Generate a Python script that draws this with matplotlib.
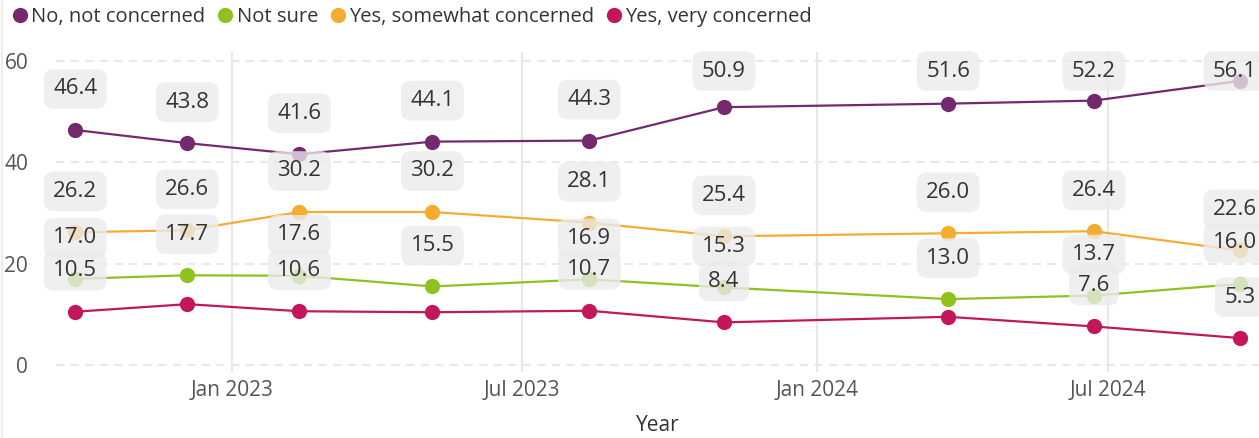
import datetime as dt
import matplotlib
matplotlib.use("Agg")
import matplotlib.pyplot as plt
import matplotlib.dates as mdates
from matplotlib import font_manager
from matplotlib.lines import Line2D

# ── Data ──────────────────────────────────────────────────────────────────────
dates = [dt.date(2022, 9, 25), dt.date(2022, 12, 4), dt.date(2023, 2, 12),
         dt.date(2023, 5, 6), dt.date(2023, 8, 12), dt.date(2023, 11, 4),
         dt.date(2024, 3, 23), dt.date(2024, 6, 22), dt.date(2024, 9, 21)]
not_concerned = [46.4, 43.8, 41.6, 44.1, 44.3, 50.9, 51.6, 52.2, 56.1]
not_sure      = [17.0, 17.7, 17.6, 15.5, 16.9, 15.3, 13.0, 13.7, 16.0]
somewhat      = [26.2, 26.6, 30.2, 30.2, 28.1, 25.4, 26.0, 26.4, 22.6]
very          = [10.5, 12.0, 10.6, 10.4, 10.7, 8.4, 9.5, 7.6, 5.3]
series_names  = ["No, not concerned", "Not sure", "Yes, somewhat concerned", "Yes, very concerned"]
tick_dates    = [dt.date(2023, 1, 1), dt.date(2023, 7, 1), dt.date(2024, 1, 1), dt.date(2024, 7, 1)]
y_ticks       = [0, 20, 40, 60]

PURPLE = "#74296F"
GREEN  = "#8FC11F"
ORANGE = "#F5AC30"
RED    = "#C2185B"
GRID   = "#E8E8E8"
TEXT   = "#333333"
TICK   = "#555555"

DPI = 100
W, H = 1259, 438
FONT = "Open Sans"
names = {f.name for f in font_manager.fontManager.ttflist}
LEGEND_FONT = "Liberation Sans Narrow" if "Liberation Sans Narrow" in names else FONT

plt.rcParams.update({
    "font.family": FONT,
    "figure.facecolor": "white",
    "axes.facecolor": "white",
})

fig = plt.figure(figsize=(W / DPI, H / DPI), dpi=DPI)
ax = fig.add_axes([56 / W, 66 / H, 1 - 56 / W, 320 / H])

# light container border on the left
fig.add_artist(Line2D([2 / W, 2 / W], [0, 1], transform=fig.transFigure,
                      color="#EDEDED", lw=1.5))

ax.set_xlim(dt.date(2022, 9, 13), dt.date(2024, 10, 3))
ax.set_ylim(-1.4, 61.8)

# grid
for y in y_ticks:
    ax.axhline(y, color=GRID, lw=1.5, dashes=(4, 3), zorder=0)
for d in tick_dates:
    ax.axvline(d, color=GRID, lw=1.5, zorder=0)

for s in ax.spines.values():
    s.set_visible(False)
ax.set_yticks(y_ticks)
ax.set_yticklabels([str(v) for v in y_ticks])
ax.set_xticks(tick_dates)
ax.xaxis.set_major_formatter(mdates.DateFormatter("%b %Y"))
ax.tick_params(axis="both", length=0, labelsize=15, colors=TICK)
ax.tick_params(axis="y", pad=20)
ax.tick_params(axis="x", pad=6)
ax.set_xlabel("Year", fontsize=15, color=TEXT, labelpad=10)

series = [(not_concerned, PURPLE), (not_sure, GREEN), (somewhat, ORANGE), (very, RED)]
for (vals, col), name in zip(series, series_names):
    ax.plot(dates, vals, color=col, lw=1.6, marker="o", markersize=11,
            markeredgewidth=0, label=name, zorder=3)

# data labels (Power BI style): above each point, hidden when crowded
LABEL_OFFSET = 41   # px above point
HALF_BOX = 19       # px
MIN_GAP = 30        # px
RIGHT_LIMIT = W - 2 # px, label box must end before this
ax_top = ax.get_window_extent().y1
label_order = [(not_concerned, PURPLE), (somewhat, ORANGE), (not_sure, GREEN), (very, RED)]
labels = []
for i, d in enumerate(dates):
    placed = []
    for vals, col in label_order:
        _, y_px = ax.transData.transform((mdates.date2num(d), vals[i]))
        cy = min(y_px + LABEL_OFFSET, ax_top - HALF_BOX)
        if any(abs(cy - p) < MIN_GAP for p in placed):
            continue
        placed.append(cy)
        ann = ax.annotate(f"{vals[i]:.1f}", xy=(d, vals[i]),
                          xytext=(0, (cy - y_px) * 72 / DPI), textcoords="offset points",
                          ha="center", va="center", fontsize=16, color=TEXT, zorder=5,
                          annotation_clip=False,
                          bbox=dict(boxstyle="round,pad=0.42,rounding_size=0.45",
                                    fc="#EBEBEB", ec="none", alpha=0.78))
        labels.append(ann)

# keep labels at the right edge inside the visual
fig.canvas.draw()
renderer = fig.canvas.get_renderer()
for ann in labels:
    ext = ann.get_window_extent(renderer)
    if ext.x1 > RIGHT_LIMIT:
        dx, dy = ann.xyann
        ann.xyann = (dx - (ext.x1 - RIGHT_LIMIT) * 72 / DPI, dy)

handles = [Line2D([], [], color=col, marker="o", linestyle="none", markersize=11,
                  markeredgewidth=0) for _, col in series]
fig.legend(handles, series_names, loc="upper left", bbox_to_anchor=(0.0, 1.012),
           ncol=4, frameon=False, handlelength=0.8, handletextpad=0.15,
           columnspacing=0.6, borderaxespad=0.2,
           prop={"family": LEGEND_FONT, "size": 14.5}, labelcolor=TEXT)

fig.savefig("out.png", dpi=DPI)
